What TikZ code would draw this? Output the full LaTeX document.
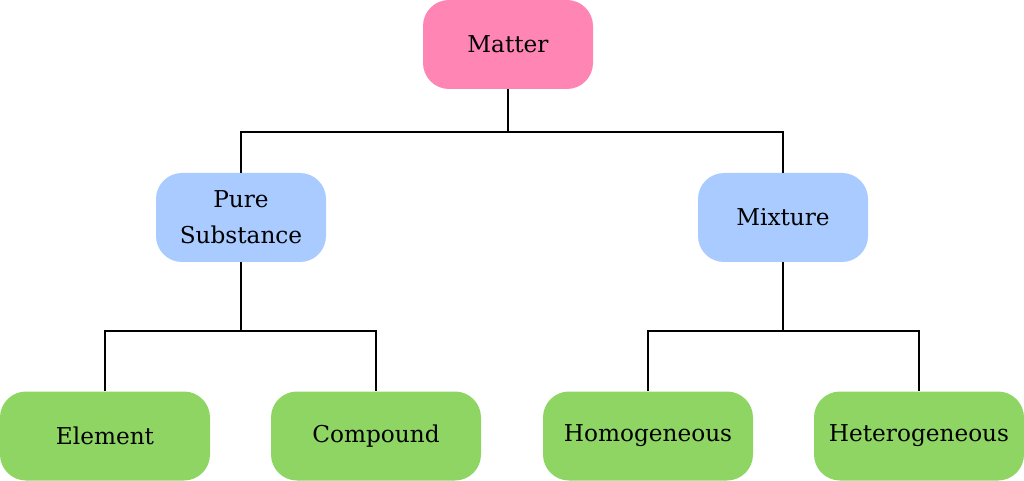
\documentclass[tikz,border=0pt]{standalone}
\usepackage{fontspec}
\setmainfont{DejaVu Serif}
\definecolor{mattercol}{HTML}{FF85B5}
\definecolor{kindcol}{HTML}{A9CBFF}
\definecolor{leafcol}{HTML}{8ED563}
\tikzset{
  box/.style={rounded corners=13pt, minimum height=44.5pt, align=center,
    font=\fontsize{11.6}{18}\selectfont, inner sep=0pt},
  topbox/.style={box, fill=mattercol, minimum width=85pt},
  midbox/.style={box, fill=kindcol, minimum width=85pt},
  leafbox/.style={box, fill=leafcol, minimum width=105pt},
  link/.style={line width=0.75pt}
}
\begin{document}
\begin{tikzpicture}[x=0.5pt, y=-0.5pt]
  \useasboundingbox (0,0) rectangle (1024,481);

  % Top level
  \node[topbox] (matter) at (508,44.5) {Matter};

  % Second level
  \node[midbox] (pure) at (241,217.5) {Pure\\Substance};
  \node[midbox] (mixture) at (783,217.5) {Mixture};

  % Leaves
  \node[leafbox] (element) at (105,436) {Element};
  \node[leafbox] (compound) at (376,436) {Compound};
  \node[leafbox] (homog) at (648,436) {Homogeneous};
  \node[leafbox] (heterog) at (919,436) {Heterogeneous};

  % Branch points
  \coordinate (split0) at (508,132);
  \coordinate (split1) at (241,331);
  \coordinate (split2) at (783,331);

  % Connectors
  \draw[link] (matter.south) -- (split0);
  \draw[link] (pure.north) |- (split0) -| (mixture.north);
  \draw[link] (pure.south) -- (split1);
  \draw[link] (element.north) |- (split1) -| (compound.north);
  \draw[link] (mixture.south) -- (split2);
  \draw[link] (homog.north) |- (split2) -| (heterog.north);
\end{tikzpicture}
\end{document}
